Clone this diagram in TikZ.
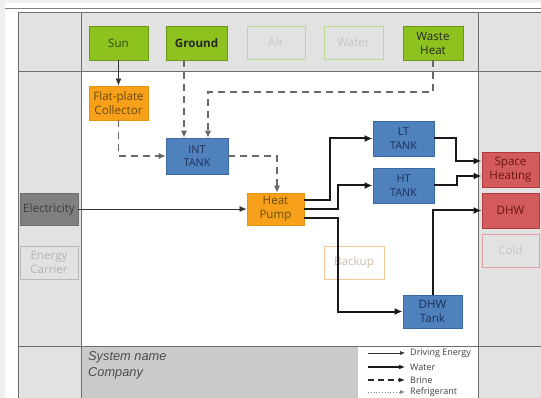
\documentclass[tikz,border=0pt]{standalone}
\usepackage{fontspec}
\setmainfont{Open Sans}
\newfontfamily\arialf{Liberation Sans}
\usetikzlibrary{arrows.meta,calc}
\definecolor{pagegray}{HTML}{EFEFEF}
\definecolor{gridgray}{HTML}{E2E2E2}
\definecolor{bottomgray}{HTML}{CACACA}
\definecolor{gridline}{HTML}{6E6E6E}
\definecolor{srcgreen}{HTML}{8DC21F}
\definecolor{srcborder}{HTML}{6A9A1A}
\definecolor{srctext}{HTML}{2F4A0A}
\definecolor{offgreen}{HTML}{B8DA8E}
\definecolor{offtext}{HTML}{C4C4C4}
\definecolor{convfill}{HTML}{F7A11A}
\definecolor{convborder}{HTML}{E8930E}
\definecolor{convtext}{HTML}{6B4A10}
\definecolor{tankfill}{HTML}{4F81BD}
\definecolor{tankborder}{HTML}{3B6AA0}
\definecolor{tanktext}{HTML}{1F2F5A}
\definecolor{loadfill}{HTML}{D45B5B}
\definecolor{loadborder}{HTML}{B03A3A}
\definecolor{loadtext}{HTML}{6A1515}
\definecolor{elecfill}{HTML}{808080}
\definecolor{elecborder}{HTML}{6E6E6E}
\definecolor{electext}{HTML}{3C3C3C}
\definecolor{brinecol}{HTML}{686868}
\begin{document}
\begin{tikzpicture}[x=1pt,y=-1pt,
  box/.style={draw, line width=0.9pt, align=center, inner sep=1pt,
    font=\fontsize{11.6}{14}\selectfont},
  tanktxt/.style={font=\fontsize{10.8}{13.5}\selectfont},
  srcbox/.style={box, fill=srcgreen, draw=srcborder, text=srctext},
  offsrc/.style={box, draw=offgreen, text=offtext},
  convbox/.style={box, fill=convfill, draw=convborder, text=convtext},
  offconv/.style={box, draw={rgb,255:red,242;green,200;blue,152}, text={rgb,255:red,205;green,190;blue,170}},
  tankbox/.style={box, fill=tankfill, draw=tankborder, text=tanktext},
  loadbox/.style={box, fill=loadfill, draw=loadborder, text=loadtext},
  offload/.style={box, draw={rgb,255:red,228;green,160;blue,160}, text=offtext},
  elecbox/.style={box, fill=elecfill, draw=elecborder, text=electext},
  offcarrier/.style={box, draw={rgb,255:red,185;green,185;blue,185}, text={rgb,255:red,180;green,180;blue,180}},
  gridrule/.style={draw=gridline, line width=0.9pt},
  elecline/.style={draw=black!80, line width=0.8pt, -{Latex[length=7pt,width=6pt]}},
  waterline/.style={draw=black!90, line width=2pt, -{Latex[length=8pt,width=7pt]}},
  brineline/.style={draw=brinecol, line width=1.1pt, dash pattern=on 7pt off 5pt, -{Latex[length=7pt,width=6.5pt]}},
  refline/.style={draw=gray, line width=0.8pt, dotted, -{Latex[length=5pt,width=4pt]}},
  legtext/.style={anchor=west, inner sep=0pt, text=black!75, font=\fontsize{9}{10}\selectfont},
  captext/.style={anchor=west, inner sep=0pt, text=black!70, font=\arialf\itshape\fontsize{12.8}{14}\selectfont}
]
\useasboundingbox (0,0) rectangle (541,398);
% page and frame
\fill[pagegray] (0,0) rectangle (541,398);
\fill[white] (5,3) rectangle (541,398);
\draw[line width=1pt, color=gray] (5,9) -- (541,9);
\fill[gridgray] (18,12) rectangle (541,398);
\fill[white] (81,71) rectangle (478,346);
\fill[bottomgray] (81,346) rectangle (358,398);
\fill[white] (358,346) rectangle (478,398);
\draw[gridrule] (18,398) -- (18,12) -- (541,12);
\draw[gridrule] (81,12) -- (81,398);
\draw[gridrule] (478,12) -- (478,398);
\draw[gridrule] (18,71) -- (541,71);
\draw[gridrule] (18,346) -- (541,346);

% sources
\node[srcbox, minimum width=59, minimum height=34] (sun) at (118.5,43) {Sun};
\node[srcbox, minimum width=61, minimum height=34, text=black!85, font=\bfseries\fontsize{11.6}{14}\selectfont] (ground) at (196.5,43) {Ground};
\node[offsrc, minimum width=58, minimum height=33] (air) at (276,42.5) {Air};
\node[offsrc, minimum width=59, minimum height=33] (water) at (353.5,42.5) {Water};
\node[srcbox, minimum width=60, minimum height=34, text=black!85] (waste) at (433,43) {Waste\\Heat};

% converters and storage
\node[convbox, minimum width=59, minimum height=34] (flat) at (118.5,103) {Flat-plate\\Collector};
\node[tankbox, tanktxt, minimum width=62, minimum height=36] (int) at (197,156) {INT\\TANK};
\node[convbox, minimum width=57, minimum height=32] (hp) at (275.5,209) {Heat\\Pump};
\node[tankbox, tanktxt, minimum width=61, minimum height=35] (lt) at (403.5,138.5) {LT\\TANK};
\node[tankbox, tanktxt, minimum width=61, minimum height=35] (ht) at (403.5,185.5) {HT\\TANK};
\node[offconv, minimum width=60, minimum height=33] (backup) at (354,262.5) {Backup};
\node[tankbox, minimum width=59, minimum height=33] (dhwt) at (432.5,311.5) {DHW\\Tank};

% loads
\node[loadbox, minimum width=57, minimum height=35] (sh) at (510.5,169.5) {Space\\Heating};
\node[loadbox, minimum width=57, minimum height=35] (dhw) at (510.5,210.5) {DHW};
\node[offload, minimum width=57, minimum height=33] (cold) at (510.5,250.5) {Cold};

% carriers
\node[elecbox, minimum width=58, minimum height=32] (elec) at (49,209) {Electricity};
\node[offcarrier, minimum width=58, minimum height=33] (carrier) at (49,262.5) {Energy\\Carrier};

% connectors
\draw[elecline] (sun) -- (flat);
\draw[brineline] ([xshift=-12.5pt]ground.south) -- ([xshift=-13pt]int.north);
\coordinate (wbend) at (208,92);
\draw[brineline] (waste.south) |- (wbend) -- ([xshift=11pt]int.north);
\draw[brineline] (flat.south) |- (int.west);
\draw[brineline] (int.east) -| ([xshift=1.5pt]hp.north);
\draw[elecline] (elec) -- (hp);
\draw[waterline] ([yshift=9pt]hp.east) -| ($(lt.west)+(-43,0)$) -- (lt.west);
\draw[waterline] (hp.east) -| ($(ht.west)+(-35,0)$) -- (ht.west);
\draw[waterline] ([yshift=-9pt]hp.east) -| ($(dhwt.west)+(-65,0)$) -- (dhwt.west);
\draw[waterline] (lt.east) -| ($(sh.west)+(-26,-8.5)$) -- ([yshift=8.5pt]sh.west);
\draw[waterline] (ht.east) -| ($(sh.west)+(-25,6.5)$) -- ([yshift=-6.5pt]sh.west);
\draw[waterline] (dhwt.north) |- (dhw.west);

% caption
\node[captext] (sysname) at (88,357) {System name};
\node[captext] (company) at (88,373) {Company};

% legend
\coordinate (la1) at (368,353); \coordinate (lb1) at (405,353);
\coordinate (la2) at (368,367); \coordinate (lb2) at (405,367);
\coordinate (la3) at (368,380); \coordinate (lb3) at (405,380);
\coordinate (la4) at (368,392); \coordinate (lb4) at (405,392);
\draw[elecline, line width=0.6pt, -{Latex[length=5pt,width=4pt]}] (la1) -- (lb1);
\draw[waterline, line width=1.6pt, -{Latex[length=6pt,width=5pt]}] (la2) -- (lb2);
\draw[brineline, draw=black!85, line width=1.6pt, dash pattern=on 6pt off 4pt, -{Latex[length=6pt,width=5pt]}] (la3) -- (lb3);
\draw[refline] (la4) -- (lb4);
\node[legtext] (lt1) at (410,353) {Driving Energy};
\node[legtext] (lt2) at (410,367) {Water};
\node[legtext] (lt3) at (410,380) {Brine};
\node[legtext] (lt4) at (410,392) {Refrigerant};
\end{tikzpicture}
\end{document}
